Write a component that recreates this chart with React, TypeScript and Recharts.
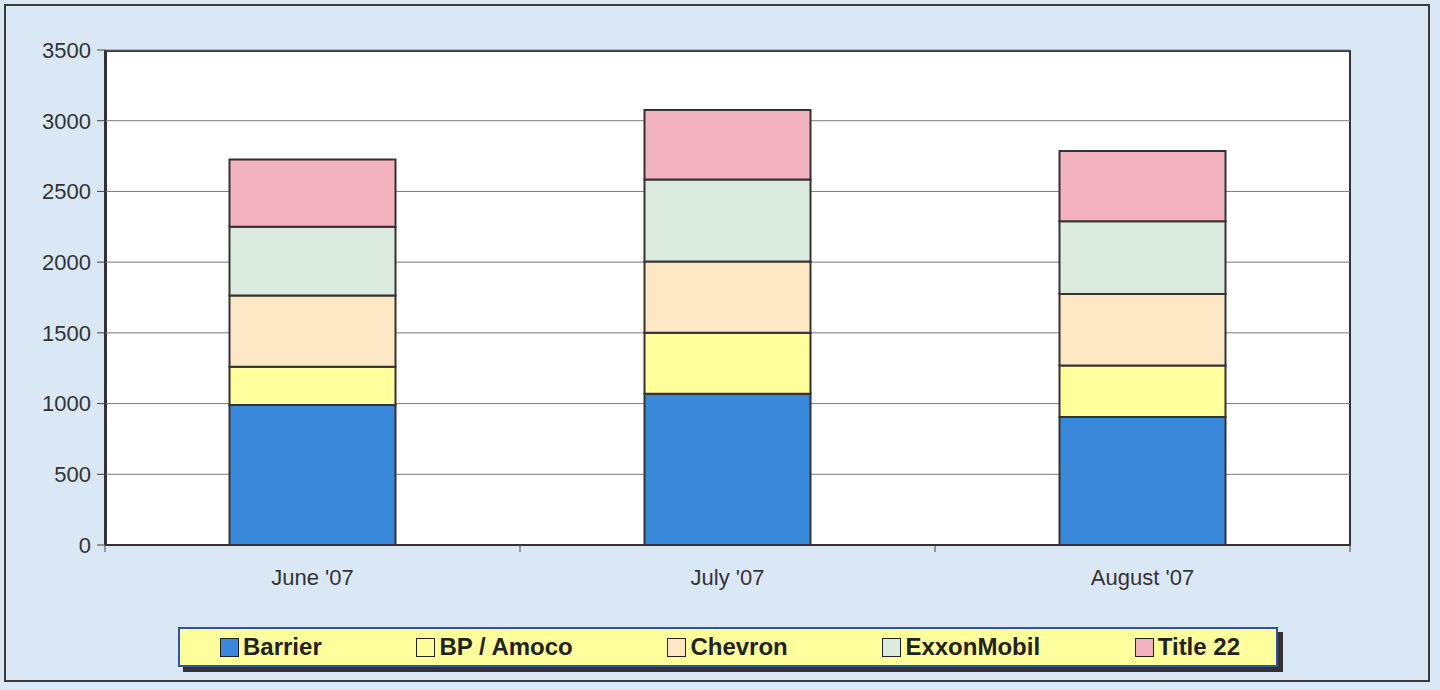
import { BarChart, Bar, XAxis, YAxis, CartesianGrid } from "recharts"

const MONTHS = ["June '07", "July '07", "August '07"]
const BARRIER = [990, 1070, 905]
const BP_AMOCO = [270, 430, 365]
const CHEVRON = [505, 505, 505]
const EXXONMOBIL = [485, 580, 515]
const TITLE_22 = [475, 490, 495]
const Y_TICKS = [0, 500, 1000, 1500, 2000, 2500, 3000, 3500]

const SERIES = [
  { key: "barrier", name: "Barrier", values: BARRIER, color: "#3a88d9" },
  { key: "bp", name: "BP / Amoco", values: BP_AMOCO, color: "#ffff9c" },
  { key: "chevron", name: "Chevron", values: CHEVRON, color: "#fde8c6" },
  { key: "exxon", name: "ExxonMobil", values: EXXONMOBIL, color: "#dcebdf" },
  { key: "title22", name: "Title 22", values: TITLE_22, color: "#f3b2c0" },
]

const FONT = "Arial, 'Liberation Sans', sans-serif"

// Excel style: tick marks sit between the categories, not under them
function MonthTick(props: any) {
  const { x, y, payload, width, index, visibleTicksCount } = props
  const band = width / visibleTicksCount
  const left = x - band / 2
  const right = x + band / 2
  return (
    <g>
      <line x1={left} y1={y - 8} x2={left} y2={y - 1} stroke="#444" strokeWidth={1} />
      {index === visibleTicksCount - 1 && (
        <line x1={right} y1={y - 8} x2={right} y2={y - 1} stroke="#444" strokeWidth={1} />
      )}
      <text x={x} y={y + 32} textAnchor="middle" fill="#333" fontSize={22} fontFamily={FONT}>
        {payload.value}
      </text>
    </g>
  )
}

export default function App() {
  const data = MONTHS.map((m, i) => {
    const row: Record<string, any> = { month: m }
    SERIES.forEach((s) => (row[s.key] = s.values[i]))
    return row
  })

  return (
    <div
      style={{
        position: "absolute",
        left: 0,
        top: 0,
        width: 1440,
        height: 690,
        background: "#dae8f6",
        fontFamily: FONT,
        overflow: "hidden",
      }}
    >
      {/* outer frame */}
      <div
        style={{
          position: "absolute",
          left: 4,
          top: 4,
          width: 1426,
          height: 678,
          border: "2px solid #3a3a3a",
          boxSizing: "border-box",
        }}
      />
      {/* plot area background + border */}
      <div
        style={{
          position: "absolute",
          left: 105,
          top: 50,
          width: 1246,
          height: 496,
          background: "#ffffff",
          border: "2px solid #333",
          boxSizing: "border-box",
        }}
      />
      <div style={{ position: "absolute", left: 0, top: 0 }}>
        <BarChart
          width={1440}
          height={690}
          data={data}
          margin={{ top: 50, right: 90, bottom: 105, left: 0 }}
          barCategoryGap="30%"
        >
          <CartesianGrid vertical={false} stroke="#7a7a7a" strokeWidth={1} />
          <XAxis
            dataKey="month"
            axisLine={{ stroke: "#333", strokeWidth: 2 }}
            tickLine={false}
            tick={<MonthTick />}
            interval={0}
            height={40}
          />
          <YAxis
            width={105}
            domain={[0, 3500]}
            ticks={Y_TICKS}
            interval={0}
            axisLine={{ stroke: "#333", strokeWidth: 2 }}
            tickLine={{ stroke: "#444" }}
            tickSize={8}
            tickMargin={6}
            tick={{ fill: "#333", fontSize: 22, fontFamily: FONT }}
          />
          {SERIES.map((s) => (
            <Bar
              key={s.key}
              dataKey={s.key}
              name={s.name}
              stackId="a"
              fill={s.color}
              stroke="#333"
              strokeWidth={2}
              isAnimationActive={false}
            />
          ))}
        </BarChart>
      </div>
      {/* legend */}
      <div
        style={{
          position: "absolute",
          left: 178,
          top: 627,
          width: 1100,
          height: 40,
          background: "#ffff9c",
          border: "2px solid #2c55a8",
          boxShadow: "5px 5px 0 #333",
          boxSizing: "border-box",
          display: "flex",
          alignItems: "center",
          justifyContent: "space-between",
          padding: "0 36px 0 40px",
        }}
      >
        {SERIES.map((s) => (
          <div key={s.key} style={{ display: "flex", alignItems: "center" }}>
            <span
              style={{
                display: "inline-block",
                width: 17,
                height: 17,
                background: s.color,
                border: "1.5px solid #222",
                marginRight: 4,
              }}
            />
            <span style={{ fontWeight: 700, fontSize: 24, color: "#222" }}>{s.name}</span>
          </div>
        ))}
      </div>
    </div>
  )
}
